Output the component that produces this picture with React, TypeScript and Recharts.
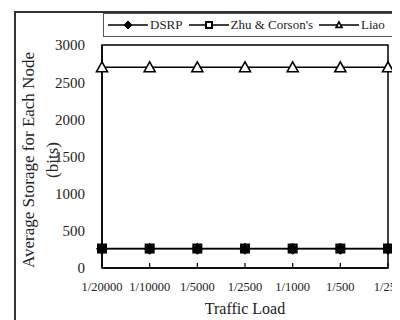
import { LineChart, Line, XAxis, YAxis, ReferenceArea } from 'recharts'

const categories = ['1/20000', '1/10000', '1/5000', '1/2500', '1/1000', '1/500', '1/250']
const dsrpValues = [258, 258, 258, 258, 258, 258, 258]
const zhuValues = [262, 262, 262, 262, 262, 262, 262]
const liaoValues = [2700, 2700, 2700, 2700, 2700, 2700, 2700]
const yTicks = [0, 500, 1000, 1500, 2000, 2500, 3000]
const seriesNames = ['DSRP', "Zhu & Corson's", 'Liao']

const data = categories.map((load, i) => ({
  load,
  dsrp: dsrpValues[i],
  zhu: zhuValues[i],
  liao: liaoValues[i],
}))

const FONT = "'Liberation Serif', 'Times New Roman', serif"
const INK = '#222'

const Diamond = ({ cx, cy, r }: { cx: number; cy: number; r: number }) => (
  <path d={`M${cx},${cy - r}L${cx + r},${cy}L${cx},${cy + r}L${cx - r},${cy}Z`} fill="#000" stroke="#000" strokeWidth={1} />
)

const Square = ({ cx, cy, r }: { cx: number; cy: number; r: number }) => (
  <rect x={cx - r} y={cy - r} width={r * 2} height={r * 2} fill="#fff" stroke="#000" strokeWidth={2} />
)

const Triangle = ({ cx, cy, r }: { cx: number; cy: number; r: number }) => (
  <path d={`M${cx},${cy - r}L${cx + r},${cy + r * 0.8}L${cx - r},${cy + r * 0.8}Z`} fill="#fff" stroke="#000" strokeWidth={1.6} />
)

const markers = [Diamond, Square, Triangle]

// tick mark drawn inside the plot, label below
const XTick = (props: any) => {
  const { x, y, payload } = props
  const axisY = y - 14
  return (
    <g>
      <line x1={x} x2={x} y1={axisY} y2={axisY - 5} stroke="#000" strokeWidth={1.2} />
      <text x={x} y={y} dy="0.71em" textAnchor="middle" fontSize={12.5} fontFamily={FONT} fill={INK}>
        {payload.value}
      </text>
    </g>
  )
}

const YTick = (props: any) => {
  const { x, y, payload } = props
  return (
    <text x={x - 9} y={y} dy="0.36em" textAnchor="end" fontSize={15} fontFamily={FONT} fill={INK}>
      {payload.value}
    </text>
  )
}

const YLabel = () => (
  <g>
    <text transform="translate(20,152) rotate(-90)" textAnchor="middle" dominantBaseline="central" fontSize={17} fontFamily={FONT} fill={INK}>
      Average Storage for Each Node
    </text>
    <text transform="translate(44,152) rotate(-90)" textAnchor="middle" dominantBaseline="central" fontSize={17} fontFamily={FONT} fill={INK}>
      (bits)
    </text>
  </g>
)

function LegendIcon({ index }: { index: number }) {
  const M = markers[index]
  return (
    <svg width={40} height={12} style={{ display: 'block' }}>
      <line x1={0} x2={40} y1={6} y2={6} stroke="#000" strokeWidth={1.3} />
      <M cx={20} cy={6} r={index === 0 ? 4 : 3} />
    </svg>
  )
}

export default function App() {
  return (
    <div style={{ position: 'relative', width: 392, height: 312, overflow: 'hidden', background: '#fff' }}>
      <div
        style={{
          position: 'absolute',
          left: 6,
          top: 3,
          width: 420,
          height: 420,
          border: '2px solid #333',
          boxSizing: 'border-box',
        }}
      />
      <LineChart width={392} height={312} data={data} margin={{ top: 37, right: 12, bottom: 0, left: 0 }}>
        <ReferenceArea
          x1={categories[0]}
          x2={categories[categories.length - 1]}
          y1={0}
          y2={3000}
          fill="none"
          stroke="#000"
          strokeWidth={1.5}
          ifOverflow="visible"
        />
        <XAxis
          dataKey="load"
          interval={0}
          height={52}
          tickSize={0}
          tickMargin={14}
          tick={<XTick />}
          axisLine={{ stroke: '#000', strokeWidth: 1.5 }}
          tickLine={false}
          label={{ value: 'Traffic Load', position: 'insideBottom', offset: 6, fontSize: 16, fontFamily: FONT, fill: INK }}
        />
        <YAxis
          width={94}
          domain={[0, 3000]}
          ticks={yTicks}
          tickLine={false}
          axisLine={{ stroke: '#000', strokeWidth: 1.5 }}
          tick={<YTick />}
          label={<YLabel />}
        />
        <Line
          dataKey="zhu"
          name={seriesNames[1]}
          stroke="#000"
          strokeWidth={1.5}
          isAnimationActive={false}
          dot={(p: any) => <Square key={`z${p.index}`} cx={p.cx} cy={p.cy} r={4} />}
        />
        <Line
          dataKey="dsrp"
          name={seriesNames[0]}
          stroke="#000"
          strokeWidth={1.5}
          isAnimationActive={false}
          dot={(p: any) => <Diamond key={`d${p.index}`} cx={p.cx} cy={p.cy} r={5.5} />}
        />
        <Line
          dataKey="liao"
          name={seriesNames[2]}
          stroke="#000"
          strokeWidth={1.5}
          isAnimationActive={false}
          dot={(p: any) => <Triangle key={`l${p.index}`} cx={p.cx} cy={p.cy} r={5.5} />}
        />
      </LineChart>
      <div
        style={{
          position: 'absolute',
          left: 95,
          top: 5,
          width: 290,
          height: 24,
          border: '1.5px solid #555',
          boxSizing: 'border-box',
          display: 'flex',
          alignItems: 'center',
          paddingLeft: 4,
          fontFamily: FONT,
          fontSize: 13,
          color: INK,
          background: '#fff',
        }}
      >
        {seriesNames.map((name, i) => (
          <div key={name} style={{ display: 'flex', alignItems: 'center', marginRight: 6 }}>
            <LegendIcon index={i} />
            <span style={{ marginLeft: 2, whiteSpace: 'nowrap', fontFamily: FONT }}>{name}</span>
          </div>
        ))}
      </div>
    </div>
  )
}
